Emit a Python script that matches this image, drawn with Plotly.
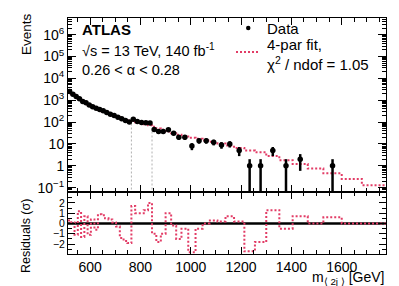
import math
import plotly.graph_objects as go

# ---------------- data ----------------
bin_edges = [512, 525, 538, 551, 564, 577, 590, 603, 617, 631, 645, 659, 673, 688,
             703, 718, 733, 748, 764, 779, 796, 813, 830, 846, 863, 881, 900, 922,
             942, 963, 990, 1019, 1047, 1076, 1106, 1138, 1172, 1213, 1255, 1300,
             1352, 1405, 1465, 1527, 1600, 1680, 1776]

data_counts = [2500, 1870, 1470, 1150, 870, 755, 610, 495, 430, 377, 326, 275, 230,
               200, 168, 142, 119, 100, 136, 107, 96, 93, 90, 46, 37, 37, 44, 31,
               20, 20, 8, 14, 14, 12, 9, 10, 5, 1, 1, 5, 1, 2, 0, 1, 0, 0]

fit_values = [2450, 1870, 1480, 1140, 900, 740, 610, 500, 425, 360, 310, 265, 228,
              197, 170, 147, 128, 119, 116, 98, 86, 79, 71, 61, 51, 44, 37, 31,
              26, 22, 19, 17, 14.5, 12.5, 10.5, 8.5, 6.5, 5.0, 4.2, 2.8, 1.8, 1.2,
              0.75, 0.45, 0.25, 0.13]

residuals = [0.3, 0.1, -1.1, 1.2, -1.3, 0.7, -1.1, 0.4, -0.6, 0.9, 0.8, 0.5, 0.4,
             0.1, -0.3, -1.4, -1.7, -1.9, 1.7, 1.0, 1.0, 1.3, 2.0, -1.0, -1.8, -1.0,
             1.0, -0.2, -1.5, -0.5, -2.8, -0.5, 0.0, 0.3, 0.2, 0.7, 0.2, -2.7, -1.8,
             1.3, -0.5, 0.7, 0.0, 0.6, 0.0, 0.0]

window_edges = [764, 846]
window_heights = [95, 46]

x_tick_values = [600, 800, 1000, 1200, 1400, 1600]
y_tick_values = [0.1, 1, 10, 100, 1e3, 1e4, 1e5, 1e6]
y_tick_labels = ["10<sup>−1</sup>", "1", "10", "10<sup>2</sup>", "10<sup>3</sup>",
                 "10<sup>4</sup>", "10<sup>5</sup>", "10<sup>6</sup>"]
res_tick_values = [-2, -1, 0, 1, 2]
res_tick_labels = ["−2", "−1", "0", "1", "2"]

# ---------------- derived ----------------
RED = "#e23c66"
FONT = "Liberation Sans"

centers = [(bin_edges[i] + bin_edges[i + 1]) / 2 for i in range(len(data_counts))]
pts_x = [c for c, n in zip(centers, data_counts) if n > 0]
pts_y = [n for n in data_counts if n > 0]
err_up = [math.sqrt(n) for n in pts_y]
err_dn = [min(math.sqrt(n), n * 0.995) for n in pts_y]

fig = go.Figure()

for xe, h in zip(window_edges, window_heights):
    fig.add_trace(go.Scatter(x=[xe, xe], y=[0.01, h], mode="lines",
                             line=dict(color="#b0b0b0", width=1, dash="2px,2px"),
                             xaxis="x", yaxis="y", showlegend=False, hoverinfo="skip"))

fig.add_trace(go.Scatter(x=bin_edges, y=fit_values + [fit_values[-1]], mode="lines",
                         line=dict(color=RED, width=2, dash="2px,2px", shape="hv"),
                         xaxis="x", yaxis="y", showlegend=False))

fig.add_trace(go.Scatter(x=pts_x, y=pts_y, mode="markers",
                         marker=dict(color="black", size=5.5),
                         error_y=dict(type="data", array=err_up, arrayminus=err_dn,
                                      symmetric=False, color="black", thickness=2.5, width=0),
                         xaxis="x", yaxis="y", showlegend=False))

fig.add_trace(go.Scatter(x=[bin_edges[0], bin_edges[-1]], y=[0, 0], mode="lines",
                         line=dict(color="black", width=2.5),
                         xaxis="x2", yaxis="y2", showlegend=False, hoverinfo="skip"))
fig.add_trace(go.Scatter(x=bin_edges, y=residuals + [residuals[-1]], mode="lines",
                         line=dict(color=RED, width=2, dash="2px,2px", shape="hv"),
                         xaxis="x2", yaxis="y2", showlegend=False))

L, R, T, B = 60, 21, 10, 40
W, H = 399, 286
PW, PH = W - L - R, H - T - B
split = (246 - 184) / PH


def px(x):
    return (x - L) / PW


def py(y):
    return (H - B - y) / PH


minor_log = [k * 10 ** n for n in range(-2, 7) for k in range(2, 10)]

axis_common = dict(showline=True, linecolor="black", linewidth=1, mirror="ticks",
                   ticks="inside", tickcolor="black", showgrid=False, zeroline=False,
                   automargin=False)

fig.update_layout(
    template="none",
    width=W, height=H,
    margin=dict(l=L, r=R, t=T, b=B, autoexpand=False),
    paper_bgcolor="white", plot_bgcolor="white",
    font=dict(family=FONT, color="black", size=14),
    showlegend=False,
    xaxis=dict(domain=[0, 1], anchor="y", range=[bin_edges[0], bin_edges[-1]],
               tickvals=x_tick_values, showticklabels=False, ticklen=7,
               minor=dict(dtick=50, tick0=0, ticks="inside", ticklen=4, tickcolor="black"),
               **axis_common),
    yaxis=dict(domain=[split, 1], anchor="x", type="log", range=[-1.2, 6.76],
               tickvals=y_tick_values, ticktext=y_tick_labels, ticklen=8,
               tickfont=dict(size=14),
               minor=dict(tickvals=minor_log, ticks="inside", ticklen=4, tickcolor="black"),
               **axis_common),
    xaxis2=dict(domain=[0, 1], anchor="y2", matches="x", range=[bin_edges[0], bin_edges[-1]],
                tickvals=x_tick_values, ticklen=7, tickfont=dict(size=14),
                minor=dict(dtick=50, tick0=0, ticks="inside", ticklen=4, tickcolor="black"),
                **axis_common),
    yaxis2=dict(domain=[0, split], anchor="x2", range=[-2.96, 3.06],
                tickvals=res_tick_values, ticktext=res_tick_labels, ticklen=7,
                tickfont=dict(size=10.5),
                minor=dict(dtick=0.5, tick0=0, ticks="inside", ticklen=4, tickcolor="black"),
                **axis_common),
)

ann = []


def text(x, y, s, size=15, xanchor="left", yanchor="middle", angle=0):
    ann.append(dict(x=px(x), y=py(y), xref="paper", yref="paper", text=s,
                    showarrow=False, xanchor=xanchor, yanchor=yanchor,
                    textangle=angle, font=dict(size=size, family=FONT, color="black")))


text(72, 22, "<b>ATLAS</b>", size=15)
text(72, 42, "√s = 13 TeV, 140 fb<sup>-1</sup>", size=14.5)
text(72, 62, "0.26 < α < 0.28", size=14.5)
text(257, 20, "Data", size=15)
text(257, 36, "4-par fit,", size=15)
text(257, 55, "χ<sup>2</sup> / ndof = 1.05", size=15)
text(18, 26, "Events", size=13.5, xanchor="center", yanchor="middle", angle=-90)
text(18, 228, "Residuals (σ)", size=12.5, xanchor="center", yanchor="middle", angle=-90)
text(378, 269.5, "m<sub>⟨ 2j ⟩</sub> [GeV]", size=14, xanchor="right", yanchor="middle")

fig.update_layout(annotations=ann)

shapes = [
    dict(type="circle", xref="paper", yref="paper",
         x0=px(238), x1=px(242.5), y0=py(22.2), y1=py(17.8),
         fillcolor="black", line=dict(color="black", width=0)),
    dict(type="line", xref="paper", yref="paper",
         x0=px(228), x1=px(252), y0=py(44), y1=py(44),
         line=dict(color=RED, width=2, dash="2px,2px")),
]
fig.update_layout(shapes=shapes)

fig.write_html("out.html")
